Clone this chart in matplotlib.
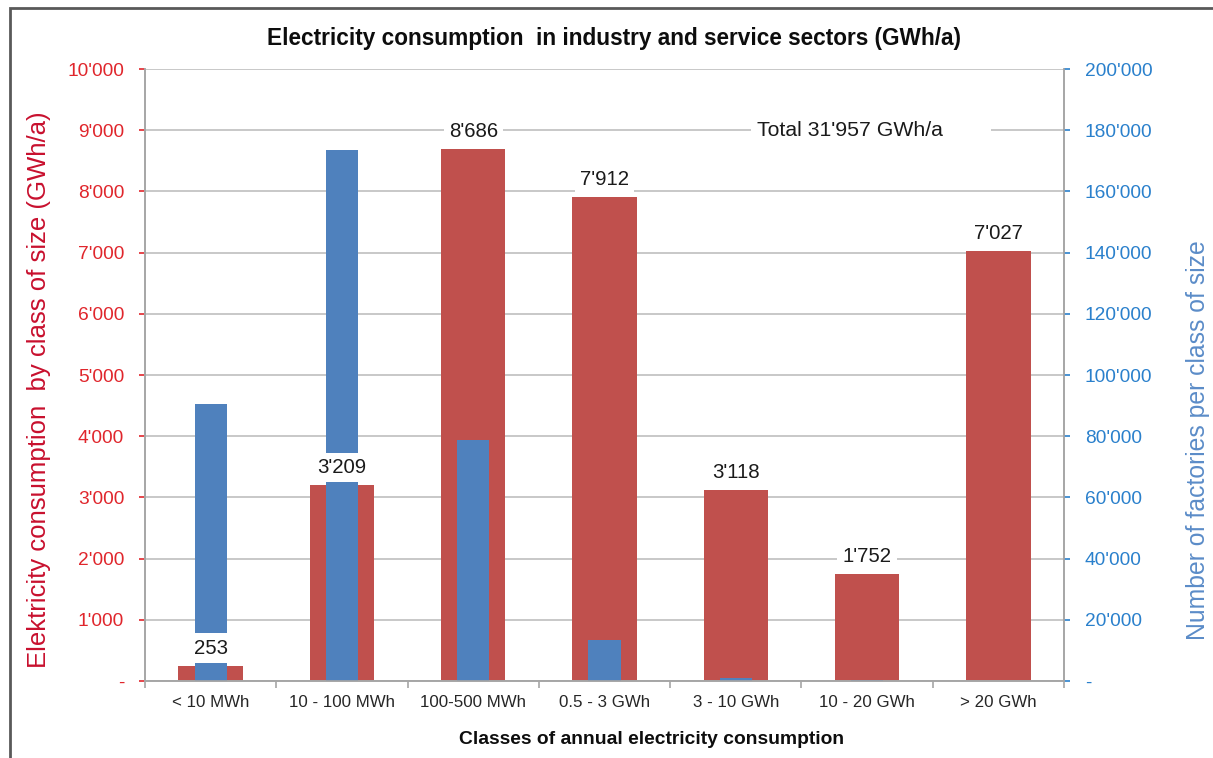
import matplotlib
matplotlib.use("Agg")
import matplotlib.pyplot as plt
from matplotlib.ticker import FuncFormatter, MultipleLocator
from matplotlib.patches import Rectangle
import numpy as np

plt.rcParams['font.family'] = ['Liberation Sans', 'DejaVu Sans']

# Daten
klassen = ['< 10 MWh', '10 - 100 MWh', '100-500 MWh', '0.5 - 3 GWh',
           '3 - 10 GWh', '10 - 20 GWh', '> 20 GWh']
verbrauch = [253, 3209, 8686, 7912, 3118, 1752, 7027]          # GWh/a
fabriken = [90500, 173500, 78800, 13400, 1000, 300, 100]        # Anzahl
total_text = "Total 31'957 GWh/a"

ROT = '#C0504D'
BLAU = '#4F81BD'
GRAU = '#A6A6A6'


def tausender(v, pos=None):
    if v == 0:
        return '-'
    return f'{int(round(v)):,}'.replace(',', "'")


fig = plt.figure(figsize=(12.13, 7.58), dpi=100)
ax = fig.add_axes([145 / 1213, 1 - 681 / 758, (1064 - 145) / 1213, (681 - 69) / 758])
ax2 = ax.twinx()

x = np.arange(len(klassen))

# Rote Balken (linke Achse)
ax.bar(x, verbrauch, width=0.49, color=ROT, zorder=2)
ax.set_ylim(0, 10000)
ax.set_xlim(-0.5, len(klassen) - 0.5)
ax.yaxis.set_major_locator(MultipleLocator(1000))
ax.yaxis.set_major_formatter(FuncFormatter(tausender))
ax.grid(True, axis='y', color='#BFBFBF', linewidth=1.2, zorder=0)
ax.set_axisbelow(True)

# Blaue Balken (rechte Achse)
ax2.bar(x, fabriken, width=0.245, color=BLAU, zorder=2)
ax2.set_ylim(0, 200000)
ax2.yaxis.set_major_locator(MultipleLocator(20000))
ax2.yaxis.set_major_formatter(FuncFormatter(tausender))

# Werte-Beschriftungen mit weissem Hintergrund
for xi, v in zip(x, verbrauch):
    ax2.annotate(tausender(v), xy=(xi, v), xycoords=ax.transData,
                 xytext=(0, 8), textcoords='offset pixels',
                 ha='center', va='bottom', fontsize=14.7, color='#1A1A1A',
                 bbox=dict(boxstyle='square,pad=0.25', fc='white', ec='none'),
                 zorder=5)

ax2.text(4.165, 9000, total_text + '       ', transform=ax.transData,
         ha='left', va='center', fontsize=15.3, color='#1A1A1A',
         bbox=dict(boxstyle='square,pad=0.3', fc='white', ec='none'), zorder=5)

# Achsen
ax.set_xticks(x)
ax.set_xticklabels(klassen, fontsize=12.2, color='#262626')
ax.set_xticks(np.arange(-0.5, len(klassen)), minor=True)
ax.tick_params(axis='x', which='major', length=0, pad=10)
ax.tick_params(axis='x', which='minor', length=5, color=GRAU, width=1.2)
ax.tick_params(axis='y', colors='#E0262C', labelsize=13.8, length=4, width=1.2, pad=11)
for t in ax.yaxis.get_ticklines():
    t.set_color(GRAU)
ax2.tick_params(axis='y', colors='#2A80CC', labelsize=13.8, length=4, width=1.2, pad=11)
for t in ax2.yaxis.get_ticklines():
    t.set_color(GRAU)

for a in (ax, ax2):
    for s in a.spines.values():
        s.set_color(GRAU)
        s.set_linewidth(1.2)
    a.spines['top'].set_visible(False)

ax.set_ylabel('Elektricity consumption  by class of size (GWh/a)',
              fontsize=18.5, color='#C8102E')
ax.yaxis.set_label_coords(-(145 - 51) / 919, (681 - 390) / 612)
ax2.set_ylabel('Number of factories per class of size',
               fontsize=17.8, color='#5B8CC8')
ax2.yaxis.set_label_coords((1186 - 145) / 919, (681 - 440) / 612)
ax.set_xlabel('Classes of annual electricity consumption',
              fontsize=13.9, fontweight='bold', color='#0D0D0D')
ax.xaxis.set_label_coords((652 - 145) / 919, -(731 - 681) / 612)

fig.text(614 / 1213, 1 - 38 / 758, 'Electricity consumption  in industry and service sectors (GWh/a)',
         ha='center', va='center', fontsize=16.3, fontweight='bold', color='#0D0D0D')

# Rahmen
fig.patches.append(Rectangle((10 / 1213, -0.05), 1.1, 1 - 8 / 758 + 0.05,
                             transform=fig.transFigure, fill=False,
                             edgecolor='#595959', linewidth=2))

fig.savefig('out.png', dpi=100)
